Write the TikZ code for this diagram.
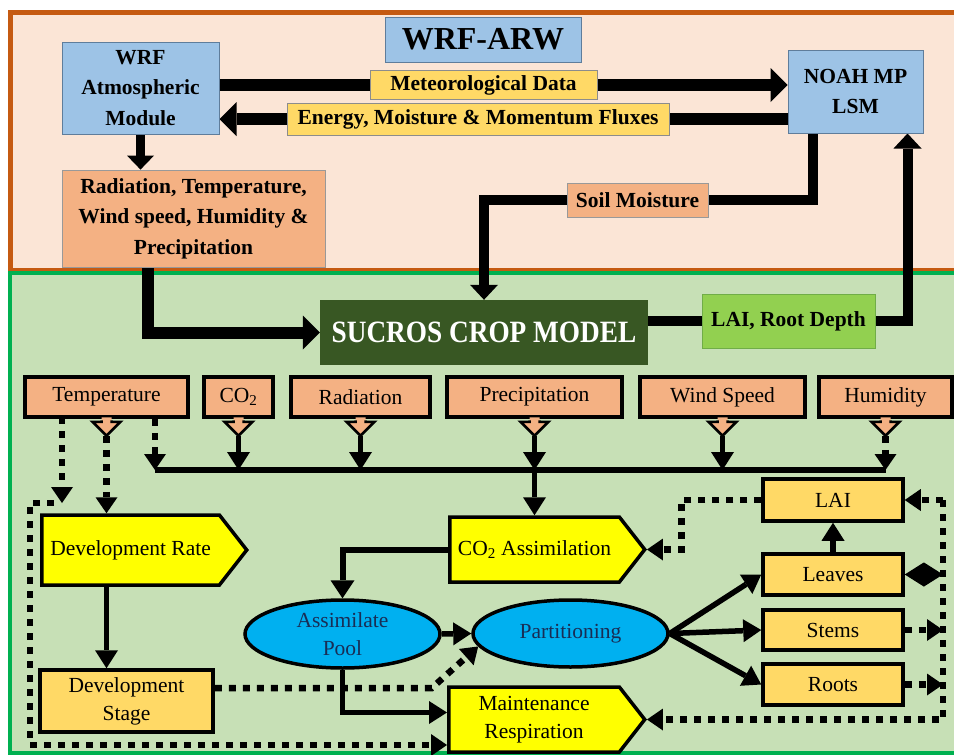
\documentclass[tikz,border=0pt]{standalone}
\usepackage{fontspec}
\setmainfont{Liberation Serif}
\newfontfamily\narrowserif[FakeStretch=0.88]{Liberation Serif}
\usetikzlibrary{positioning, arrows.meta, shapes.geometric, shapes.symbols}
\definecolor{wrfline}{RGB}{197,90,17}
\definecolor{wrfpanel}{RGB}{251,229,214}
\definecolor{cropline}{RGB}{0,176,80}
\definecolor{croppanel}{RGB}{199,224,182}
\definecolor{skyblue}{RGB}{157,195,230}
\definecolor{skyedge}{RGB}{95,125,155}
\definecolor{labelgold}{RGB}{255,217,102}
\definecolor{salmon}{RGB}{244,177,131}
\definecolor{leafgreen}{RGB}{146,208,80}
\definecolor{leafedge}{RGB}{112,173,71}
\definecolor{darkleaf}{RGB}{56,87,35}
\definecolor{brightyellow}{RGB}{255,255,0}
\definecolor{poolblue}{RGB}{0,176,240}
\definecolor{navytext}{RGB}{25,45,85}
\newcommand{\regtext}{\fontsize{21.5}{28}\selectfont}
\newcommand{\boldtext}{\bfseries\fontsize{21.5}{30.5}\selectfont}
\pgfdeclarelayer{panels}
\pgfdeclarelayer{lines}
\pgfsetlayers{panels,lines,main}

\begin{document}
\begin{tikzpicture}[x=1pt, y=-1pt,
    topbox/.style={draw=skyedge, line width=1pt, fill=skyblue, align=center, font=\boldtext, inner sep=0pt},
    tag/.style={draw=black!45, line width=0.8pt, fill=labelgold, font=\boldtext, inner sep=0pt},
    salmonbox/.style={draw=black!40, line width=0.8pt, fill=salmon, align=center, font=\boldtext, inner sep=0pt},
    inbox/.style={draw=black, line width=3.5pt, fill=salmon, font=\regtext, inner sep=0pt, minimum height=40pt},
    stagebox/.style={draw=black, line width=3.5pt, fill=labelgold, align=center, font=\regtext, inner sep=0pt},
    sig/.style={signal, signal to=east, signal pointer angle=104, draw=black, line width=3.5pt, fill=brightyellow, align=center, font=\regtext, inner sep=0pt},
    pool/.style={ellipse, draw=black, line width=3.5pt, fill=poolblue, align=center, font=\regtext, text=navytext, inner sep=0pt, minimum width=195pt, minimum height=68pt},
    fatarrow/.style={line width=12pt, -{Triangle[length=17pt,width=34pt,line width=0pt]}},
    linkarrow/.style={line width=10pt, -{Triangle[length=15pt,width=28pt,line width=0pt]}},
    solidarrow/.style={line width=5.5pt, -{Triangle[length=18pt,width=23pt,line width=0pt]}},
    dotline/.style={line width=6.5pt, dash pattern=on 7pt off 7pt},
    dotarrow/.style={dotline, -{Triangle[length=16pt,width=22pt,line width=0pt]}},
    dblarrow/.style={line width=5pt, {Triangle[length=19pt,width=24pt,line width=0pt]}-{Triangle[length=19pt,width=24pt,line width=0pt]}}]
\useasboundingbox (0,0) rectangle (954,755);

% Paneles
\begin{pgfonlayer}{panels}
  \draw[fill=wrfpanel, draw=wrfline, line width=5pt] (10,12) rectangle (960,270);
  \draw[fill=croppanel, draw=cropline, line width=4pt] (10,273) rectangle (960,753);
\end{pgfonlayer}

% Parte WRF-ARW
\node[topbox, minimum width=196pt, minimum height=45pt, font=\bfseries\fontsize{32}{36}\selectfont] (wrfarw) at (483,39.5) {WRF-ARW};
\node[topbox, minimum width=157pt, minimum height=92pt] (wrf) at (140.5,88) {WRF\\Atmospheric\\Module};
\node[topbox, minimum width=135pt, minimum height=83pt] (noah) at (855.5,91.5) {NOAH MP\\LSM};
\node[tag, minimum width=227pt, minimum height=29pt] (met) at (483.5,85) {Meteorological Data};
\node[tag, minimum width=382pt, minimum height=32pt] (flux) at (478,119) {Energy, Moisture \& Momentum Fluxes};
\node[salmonbox, minimum width=263pt, minimum height=97pt] (rad) at (193.5,218.5) {Radiation, Temperature,\\Wind speed, Humidity \&\\Precipitation};
\node[salmonbox, minimum width=141pt, minimum height=34pt] (soil) at (637.5,200) {Soil Moisture};

% Modelo de cultivo
\node[fill=darkleaf, text=white, inner sep=0pt, minimum width=328pt, minimum height=65pt,
      font=\narrowserif\bfseries\fontsize{31}{36}\selectfont] (sucros) at (484,332.5) {SUCROS CROP MODEL};
\node[fill=leafgreen, draw=leafedge, line width=1pt, inner sep=0pt, minimum width=173pt, minimum height=54pt, font=\boldtext] (laird) at (788.5,321) {LAI, Root Depth};

% Entradas meteorologicas
\node[inbox, minimum width=163pt] (temp) at (106.5,397) {Temperature};
\node[inbox, minimum width=69pt] (co2) at (238.5,397) {CO\textsubscript{2}};
\node[inbox, minimum width=139pt] (radi) at (360.5,397) {Radiation};
\node[inbox, minimum width=175pt] (prec) at (534.5,397) {Precipitation};
\node[inbox, minimum width=165pt] (wind) at (722.5,397) {Wind Speed};
\node[inbox, minimum width=133pt] (humid) at (885.5,397) {Humidity};
\foreach \inp in {temp,co2,radi,prec,wind,humid}{
  \begin{scope}[shift={(\inp.south)}]
    \fill[salmon] (-5,-1.5) -- (-5,3) -- (-14,3) -- (0,17) -- (14,3) -- (5,3) -- (5,-1.5) -- cycle;
    \draw[line width=2.5pt] (-5,1.5) -- (-5,3) -- (-14,3) -- (0,17) -- (14,3) -- (5,3) -- (5,1.5);
  \end{scope}
}
\coordinate (busL) at (155,470);
\coordinate (tleft) at (62,417);
\coordinate (tlend) at (62,503);
\coordinate (lowleft) at (30,745);
\coordinate (rtop) at (943,500);

% Procesos
\node[sig, anchor=west, minimum width=205pt, minimum height=70pt] (devrate) at (40,550) {Development Rate};
\node[stagebox, minimum width=173pt, minimum height=62pt] (devstage) at (126.5,701) {Development\\Stage};
\node[sig, anchor=west, minimum width=195pt, minimum height=65pt] (co2a) at (448,549.5) {CO\textsubscript{2} Assimilation};
\node[sig, anchor=west, minimum width=196pt, minimum height=65pt] (mr) at (447,719.5) {Maintenance\\Respiration};
\node[pool] (apool) at (342.5,634) {Assimilate\\Pool};
\node[pool, minimum height=67pt] (part) at (570.5,633.5) {Partitioning};
\node[stagebox, minimum width=140pt, minimum height=42pt] (lai) at (833,500) {LAI};
\node[stagebox, minimum width=140pt, minimum height=41pt] (leaves) at (833,574.5) {Leaves};
\node[stagebox, minimum width=140pt, minimum height=40pt] (stems) at (833,630) {Stems};
\node[stagebox, minimum width=140pt, minimum height=41pt] (roots) at (833,684.5) {Roots};

% Conexiones
\begin{pgfonlayer}{lines}
  \draw[fatarrow] (wrf.east |- met) -- (noah.west |- met);
  \draw[fatarrow] (noah.west |- flux) -- (wrf.east |- flux);
  \draw[line width=9pt, -{Triangle[length=14pt,width=27pt,line width=0pt]}] (wrf.south) -- (wrf.south |- rad.north);
  \draw[linkarrow] ([xshift=25pt]noah.south west) |- (sucros.north |- soil) -- (sucros.north);
  \draw[fatarrow] ([xshift=86pt]rad.south west) |- (sucros.west);
  \draw[linkarrow] (sucros.east |- laird) -| ([xshift=-16pt]noah.south east);

  \draw[line width=6pt] (busL) -- (humid.south |- busL);
  \foreach \inp in {co2,radi,prec,wind}
    \draw[solidarrow] ([yshift=-17pt]\inp.south) -- (\inp.south |- busL);
  \draw[dotarrow] ([yshift=-17pt]humid.south) -- (humid.south |- busL);
  \draw[dotarrow] (busL |- temp.south) -- (busL);
  \draw[dotarrow] ([yshift=-17pt]temp.south) -- (temp.south |- devrate.north);
  \draw[dotarrow] (tleft) -- (tlend);
  \draw[dotarrow] ([xshift=-8pt]tlend) -| (lowleft) -- (lowleft -| mr.west);
  \draw[solidarrow] (prec.south |- busL) -- (prec.south |- co2a.north);

  \draw[solidarrow] (devrate.south -| temp.south) -- (devstage.north -| temp.south);
  \draw[dotarrow] ([yshift=13pt]devstage.east) -- ++(217,0) -- (part.188);
  \draw[line width=6pt, -{Triangle[length=18pt,width=24pt,line width=0pt]}] (co2a.west) -| (apool.north);
  \draw[solidarrow] (apool.east) -- (part.west);
  \draw[solidarrow] (apool.south) |- ([yshift=7pt]mr.west);

  \draw[solidarrow] (part.east) -- (leaves.west);
  \draw[solidarrow] (part.east) -- (stems.west);
  \draw[solidarrow] (part.east) -- (roots.west);
  \draw[solidarrow] (leaves.north) -- (lai.south);

  \draw[dotarrow] (lai.west) -- ++(-80,0) |- (co2a.east);
  \draw[dotarrow] (rtop) |- (mr.east);
  \draw[dotarrow] (rtop) -- (lai.east);
  \draw[dblarrow] (leaves.east) -- (leaves.east -| rtop);
  \draw[dotarrow] (stems.east) -- (stems.east -| rtop);
  \draw[dotarrow] (roots.east) -- (roots.east -| rtop);
\end{pgfonlayer}
\end{tikzpicture}
\end{document}
